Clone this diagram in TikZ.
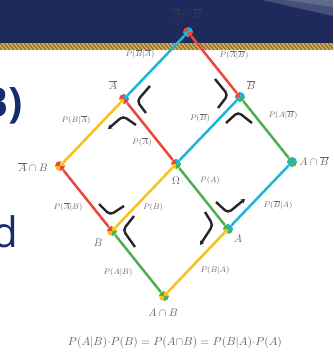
\documentclass[tikz,border=0pt]{standalone}
\usepackage{fontspec}
\newfontfamily\slidefont{Open Sans}
\usetikzlibrary{arrows.meta}
\definecolor{navy}{RGB}{30,42,92}
\definecolor{navytext}{RGB}{22,44,110}
\definecolor{gold}{RGB}{212,176,92}
\definecolor{ropedark}{RGB}{140,104,40}
\definecolor{cyanc}{RGB}{30,182,214}
\definecolor{redc}{RGB}{234,72,62}
\definecolor{yelc}{RGB}{247,192,28}
\definecolor{grnc}{RGB}{78,176,80}
\definecolor{txt}{RGB}{100,100,100}
\newcommand\nodemark[5]{%
 \begin{scope}[shift={(#1)},x=1pt,y=1pt]
 \fill[#2] (0,0) -- (-5,0) arc[start angle=180,end angle=90,radius=5pt] -- cycle;
 \fill[#3] (0,0) -- (0,5) arc[start angle=90,end angle=0,radius=5pt] -- cycle;
 \fill[#4] (0,0) -- (0,-5) arc[start angle=270,end angle=180,radius=5pt] -- cycle;
 \fill[#5] (0,0) -- (5,0) arc[start angle=0,end angle=-90,radius=5pt] -- cycle;
 \end{scope}}
\begin{document}
\begin{tikzpicture}[x=1pt,y=-1pt,
  pt/.style={circle,minimum size=10pt,inner sep=0pt},
  ecy/.style={draw=cyanc,line width=2.5pt},
  ere/.style={draw=redc,line width=2.5pt},
  eye/.style={draw=yelc,line width=2.5pt},
  egr/.style={draw=grnc,line width=2.5pt},
  lab/.style={text=txt,font=\fontsize{11}{13}\selectfont,inner sep=0pt},
  elab/.style={text=txt,font=\fontsize{8.5}{10}\selectfont,inner sep=0pt},
  chev/.style={draw=black!85,line width=2.4pt,rounded corners=4pt},
  tipd/.style={-{Stealth[length=4pt,width=5pt]}}]
\useasboundingbox (0,0) rectangle (333,354);
\fill[white] (0,0) rectangle (333,354);
\fill[navy] (0,0) rectangle (333,43);
\fill[white,opacity=0.18] (262,0) -- (333,0) -- (333,16) -- cycle;
\fill[white,opacity=0.15] (285,0) -- (333,0) -- (333,7) -- cycle;
\begin{scope}
\clip (0,43) rectangle (333,50);
\fill[gold] (0,43) rectangle (333,50);
\foreach \x in {-12,-8,...,340} \draw[ropedark,line width=1.1pt] (\x,43) -- (\x+6,50);
\end{scope}
% slide text
\node[anchor=base east,inner sep=0pt,text=navytext,font=\slidefont\bfseries\fontsize{42}{44}\selectfont] (tB) at (23,117) {B)};
\node[anchor=base east,inner sep=0pt,text=navytext,font=\slidefont\fontsize{42}{44}\selectfont] (td) at (18,247) {d};
% lattice nodes
\node[pt] (T) at (188,32) {};
\node[pt] (Ab) at (124,99) {};
\node[pt] (Bb) at (240,97) {};
\node[pt] (AbB) at (60,166) {};
\node[pt] (O) at (176,164) {};
\node[pt] (ABb) at (292,162) {};
\node[pt] (B) at (112,231) {};
\node[pt] (A) at (228,229) {};
\node[pt] (AB) at (164,296) {};
% edges
\draw[ecy] (T) -- (Ab);
\draw[ere] (T) -- (Bb);
\draw[eye] (Ab) -- (AbB);
\draw[ere] (Ab) -- (O);
\draw[ecy] (Bb) -- (O);
\draw[egr] (Bb) -- (ABb);
\draw[ere] (AbB) -- (B);
\draw[eye] (O) -- (B);
\draw[egr] (O) -- (A);
\draw[ecy] (ABb) -- (A);
\draw[egr] (B) -- (AB);
\draw[eye] (A) -- (AB);
% markers
\nodemark{T}{redc}{cyanc}{cyanc}{redc}
\nodemark{Ab}{redc}{cyanc}{yelc}{redc}
\nodemark{Bb}{redc}{cyanc}{cyanc}{grnc}
\nodemark{AbB}{redc}{yelc}{yelc}{redc}
\nodemark{O}{redc}{cyanc}{yelc}{grnc}
\nodemark{ABb}{grnc}{cyanc}{cyanc}{grnc}
\nodemark{B}{redc}{yelc}{yelc}{grnc}
\nodemark{A}{grnc}{cyanc}{yelc}{grnc}
\nodemark{AB}{grnc}{yelc}{yelc}{grnc}
% chevrons
\draw[chev] (150,86) -- (137,101) -- (146,113);
\draw[chev,{Stealth[length=4pt,width=5pt]}-] (108,129) -- (123,116) -- (136,125);
\draw[chev] (215,79) -- (228,95) -- (218,108);
\draw[chev] (226,123) -- (238,112) -- (252,123);
\draw[chev] (99,204) -- (110,215) -- (124,206);
\draw[chev] (134,216) -- (123,230) -- (135,247);
\draw[chev,tipd] (216,202) -- (228,213) -- (245,199);
\draw[chev,tipd] (205,212) -- (213,225) -- (200,245);
% node labels
\node[lab,text=black!75] (lT) at (187,13) {$\overline{A}\cap\overline{B}$};
\node[lab] (lAb) at (113,85) {$\overline{A}$};
\node[lab] (lBb) at (251,85) {$\overline{B}$};
\node[lab] (lAbB) at (33,167) {$\overline{A}\cap B$};
\node[lab] (lO) at (176,181) {$\Omega$};
\node[lab] (lABb) at (314,161) {$A\cap\overline{B}$};
\node[lab] (lB) at (98,243) {$B$};
\node[lab] (lA) at (238,239) {$A$};
\node[lab] (lAB) at (163,313) {$A\cap B$};
% edge labels
\node[elab] (e1) at (140,54) {$P(\overline{B}|\overline{A})$};
\node[elab] (e2) at (234,55) {$P(\overline{A}|\overline{B})$};
\node[elab] (e3) at (76,120) {$P(B|\overline{A})$};
\node[elab] (e4) at (142,142) {$P(\overline{A})$};
\node[elab] (e5) at (200,118) {$P(\overline{B})$};
\node[elab] (e6) at (283,115) {$P(A|\overline{B})$};
\node[elab] (e7) at (210,180) {$P(A)$};
\node[elab] (e8) at (68,207) {$P(\overline{A}|B)$};
\node[elab] (e9) at (153,207) {$P(B)$};
\node[elab] (e10) at (278,205) {$P(\overline{B}|A)$};
\node[elab] (e11) at (118,272) {$P(A|B)$};
\node[elab] (e12) at (215,270) {$P(B|A)$};
% formula
\node[text=txt,inner sep=0pt] (fml) at (175,343) {\resizebox{214pt}{!}{$P(A|B){\cdot}P(B)=P(A{\cap}B)=P(B|A){\cdot}P(A)$}};
\end{tikzpicture}
\end{document}
